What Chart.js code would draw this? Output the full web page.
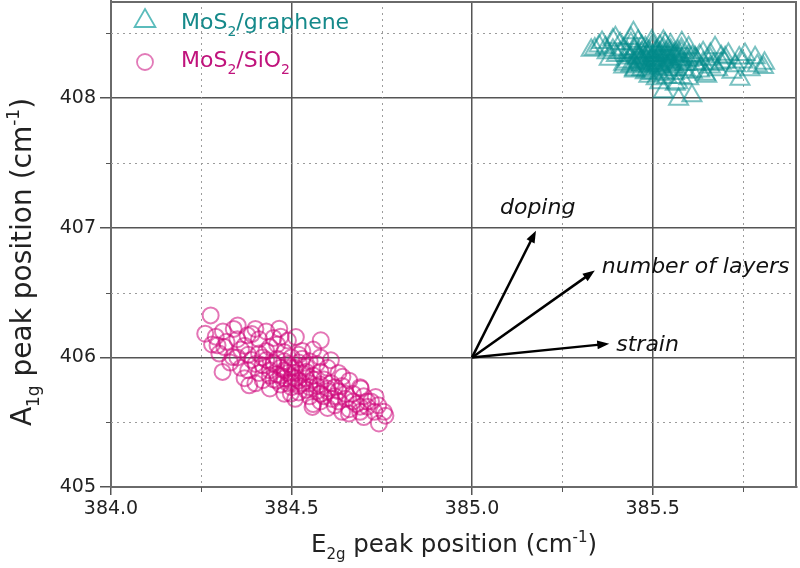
<!DOCTYPE html>
<html><head><meta charset="utf-8">
<script src="https://cdn.jsdelivr.net/npm/chart.js@4/dist/chart.umd.min.js"></script>
<style>html,body{margin:0;padding:0;background:#fff;}#wrap{width:800px;height:568px;}</style>
</head><body><div id="wrap"><canvas id="c" width="800" height="568"></canvas></div>
<script>
// ---- data ----
const grapheneE2g = [385.352,385.397,385.447,385.374,385.420,385.480,385.563,385.572,385.609,385.673,385.701,385.742,385.756,385.784,385.807,385.646,385.618,385.581,385.535,385.498,
385.33,385.43,385.45,385.52,385.53,385.66,385.69,385.72,385.60,385.63,385.38,385.44,385.58,385.75,385.81,385.79,
385.46,385.48,385.50,385.52,385.49,385.53,385.55,385.51,385.47,385.54,385.56,385.50,385.45,385.57,385.53,385.48,385.51,385.52,385.49,385.46,
385.58,385.55,385.47,385.50,385.54,385.56,385.44,385.52,385.49,385.57,385.59,385.53,385.48,385.51,385.55,385.46,385.50,385.52,385.54,385.47,
385.43,385.58,385.60,385.45,385.62,385.61,385.63,385.56,385.50,385.42,385.40,385.41,385.37,385.39,385.44,385.46,385.55,385.53,385.64,385.66,
385.68,385.70,385.65,385.60,385.57,385.54,385.51,385.49,385.71,385.73,385.77,385.74,385.36,385.34,385.42,385.45,
385.47,385.49,385.51,385.53,385.55,385.57,385.50,385.52,385.48,385.54,385.56,385.46,385.58,385.53,385.51,385.49,385.55,385.47,385.52,385.60,
385.59,385.45,385.43,385.62,385.64,385.61,385.58,385.50,385.48,385.56,385.53,385.66,385.41,385.39,385.44,385.67,385.69,385.52,385.47,385.57];
const grapheneA1g = [408.403,408.467,408.505,408.351,408.262,408.197,408.108,407.992,408.018,408.390,408.313,408.146,408.338,408.313,408.236,408.184,408.313,408.428,408.416,408.441,
408.37,408.35,408.22,408.12,408.05,408.24,408.27,408.20,408.39,408.33,408.30,408.42,408.16,408.28,408.27,408.25,
408.32,408.35,408.30,408.33,408.27,408.28,408.31,408.36,408.29,408.25,408.34,408.38,408.36,408.27,408.22,408.24,408.26,408.30,408.33,408.28,
408.30,408.37,408.40,408.25,408.35,408.24,408.31,408.40,408.21,408.33,408.26,408.38,408.31,408.23,408.28,408.34,408.33,408.27,408.32,408.26,
408.33,408.35,408.29,408.27,408.26,408.32,408.21,408.19,408.19,408.38,408.33,408.42,408.39,408.45,408.46,408.44,408.41,408.44,408.35,408.30,
408.22,408.28,408.17,408.15,408.12,408.16,408.15,408.17,408.34,408.25,408.22,408.31,408.43,408.38,408.24,408.21,
408.30,408.36,408.29,408.34,408.26,408.30,408.27,408.35,408.28,408.29,408.32,408.31,408.28,408.31,408.33,408.25,408.34,408.35,408.24,408.33,
408.22,408.38,408.28,408.30,408.27,408.20,408.38,408.41,408.39,408.22,408.20,408.34,408.35,408.37,408.25,408.26,408.32,408.18,408.22,408.36];
const sio2E2g = [384.276,384.261,384.295,384.314,384.309,384.351,384.378,384.466,384.512,384.581,384.609,384.733,384.756,384.742,384.659,384.692,384.641,384.558,384.498,384.420,384.383,384.337,
384.45,384.48,384.50,384.52,384.47,384.53,384.55,384.51,384.49,384.46,384.44,384.42,384.40,384.43,384.38,384.36,384.41,384.54,384.57,384.58,
384.60,384.62,384.56,384.59,384.61,384.63,384.65,384.64,384.67,384.68,384.70,384.71,384.66,384.69,384.72,384.74,384.62,384.58,384.55,384.52,
384.50,384.47,384.45,384.48,384.50,384.52,384.54,384.57,384.53,384.46,384.41,384.39,384.35,384.32,384.30,384.33,384.36,384.31,384.28,384.34,
384.43,384.49,384.56,384.60,384.63,384.66,384.69,384.73,384.70,384.76,384.64,384.60,384.56,384.51,384.48,384.44,384.40,384.37,384.42,384.46,
384.51,384.54,384.49,384.53,384.58,
384.47,384.49,384.51,384.53,384.55,384.57,384.59,384.61,384.45,384.43,384.48,384.50,384.52,384.46,384.44,384.54,384.56,384.58,384.60,384.62,
384.50,384.48,384.41,384.39,384.37,384.44,384.65,384.67,384.63,384.69,384.71,384.55,384.52,384.58,384.47,384.38,384.35,384.29,384.40,384.45];
const sio2A1g = [406.324,406.183,406.093,406.080,405.888,406.247,406.170,406.222,406.157,406.132,405.978,405.695,405.580,405.490,405.567,405.760,405.850,405.618,405.721,405.824,405.785,406.003,
405.95,405.90,405.85,405.82,405.86,405.88,405.80,405.92,405.80,405.99,405.90,406.00,405.95,406.05,406.02,406.06,405.88,405.75,405.78,405.72,
405.76,405.70,405.86,405.83,405.80,405.74,405.68,405.78,405.72,405.64,405.70,405.62,405.60,405.58,405.66,405.63,405.63,405.66,405.70,405.73,
405.77,405.79,405.83,406.04,406.00,405.96,405.93,405.95,406.05,406.10,406.14,406.18,406.14,406.12,406.03,405.96,405.92,406.20,406.10,406.22,
406.20,406.13,406.06,405.92,405.88,405.82,405.77,405.58,405.54,405.55,405.58,405.61,405.64,405.68,405.72,405.76,405.80,405.84,405.94,405.87,
405.88,405.84,405.95,405.99,405.89,
405.92,405.88,405.84,405.80,405.77,405.74,405.70,405.68,405.96,405.98,405.84,405.81,405.78,405.82,405.86,405.89,405.83,405.79,405.74,405.77,
405.92,405.97,406.03,405.98,406.09,406.08,405.72,405.66,405.66,405.62,405.66,405.97,406.02,406.00,406.16,405.90,406.00,406.16,406.22,406.15];

const xTicks = [384.0, 384.5, 385.0, 385.5];
const xMinor = [384.25, 384.75, 385.25, 385.75];
const yTicks = [405, 406, 407, 408];
const yMinor = [405.5, 406.5, 407.5, 408.5];
const xRange = [384.0, 385.9];
const yRange = [405, 408.75];

const legendLabels = [
  [{t:'MoS'},{t:'2',sub:1},{t:'/graphene'}],
  [{t:'MoS'},{t:'2',sub:1},{t:'/SiO'},{t:'2',sub:1}]
];
const xTitle = [{t:'E'},{t:'2g',sub:1},{t:' peak position (cm'},{t:'-1',sup:1},{t:')'}];
const yTitle = [{t:'A'},{t:'1g',sub:1},{t:' peak position (cm'},{t:'-1',sup:1},{t:')'}];

const arrowOrigin = [385.0, 406.0];
const arrowTipE2g = [385.177, 385.34, 385.38];
const arrowTipA1g = [406.978, 406.67, 406.106];
const arrowLabels = ['doping', 'number of layers', 'strain'];

// ---- drawing helpers ----
const FAM = '"DejaVu Sans", sans-serif';
function drawRich(ctx, parts, x, y, size, align) {
  let total = 0;
  parts.forEach(p => {
    ctx.font = ((p.sub || p.sup) ? Math.round(size * 0.62) : size) + 'px ' + FAM;
    p._w = ctx.measureText(p.t).width; total += p._w;
  });
  let cx = align === 'center' ? x - total / 2 : x;
  ctx.textAlign = 'left'; ctx.textBaseline = 'alphabetic';
  parts.forEach(p => {
    ctx.font = ((p.sub || p.sup) ? Math.round(size * 0.62) : size) + 'px ' + FAM;
    const dy = p.sub ? size * 0.3 : (p.sup ? -size * 0.42 : 0);
    ctx.fillText(p.t, cx, y + dy);
    cx += p._w;
  });
}
function seg(ctx, x1, y1, x2, y2) { ctx.beginPath(); ctx.moveTo(x1, y1); ctx.lineTo(x2, y2); ctx.stroke(); }
function tri(ctx, x, y, r) {
  ctx.beginPath();
  ctx.moveTo(x, y - r);
  ctx.lineTo(x + r * Math.sin(2 * Math.PI / 3), y - r * Math.cos(2 * Math.PI / 3));
  ctx.lineTo(x + r * Math.sin(4 * Math.PI / 3), y - r * Math.cos(4 * Math.PI / 3));
  ctx.closePath(); ctx.stroke();
}

const deco = {
  id: 'deco',
  beforeDatasetsDraw(chart) {
    const {ctx, chartArea: a, scales: {x, y}} = chart;
    ctx.save();
    ctx.strokeStyle = '#9c9c9c'; ctx.lineWidth = 1; ctx.setLineDash([2, 4]);
    xMinor.forEach(v => { const p = Math.round(x.getPixelForValue(v)) + 0.5; seg(ctx, p, a.top, p, a.bottom); });
    yMinor.forEach(v => { const p = Math.round(y.getPixelForValue(v)) + 0.5; seg(ctx, a.left, p, a.right, p); });
    ctx.setLineDash([]);
    ctx.strokeStyle = '#555';
    xMinor.forEach(v => { const p = Math.round(x.getPixelForValue(v)) + 0.5; seg(ctx, p, a.bottom, p, a.bottom + 5); });
    yMinor.forEach(v => { const p = Math.round(y.getPixelForValue(v)) + 0.5; seg(ctx, a.left - 5, p, a.left, p); });
    ctx.strokeStyle = '#6a6a6a'; ctx.lineWidth = 2;
    seg(ctx, a.left, a.top + 1, a.right, a.top + 1);
    seg(ctx, a.right - 1, a.top, a.right - 1, a.bottom);
    ctx.restore();
  },
  afterDatasetsDraw(chart) {
    const {ctx, chartArea: a, scales: {x, y}} = chart;
    ctx.save();
    // arrows
    const ox = x.getPixelForValue(arrowOrigin[0]), oy = y.getPixelForValue(arrowOrigin[1]);
    const offs = [[-36, -17], [7, 2], [7, 7]];
    arrowTipE2g.forEach((tx, i) => {
      const px = x.getPixelForValue(tx), py = y.getPixelForValue(arrowTipA1g[i]);
      const ang = Math.atan2(py - oy, px - ox), hl = 12, hw = 4.5;
      ctx.strokeStyle = '#000'; ctx.fillStyle = '#000'; ctx.lineWidth = 2.5;
      seg(ctx, ox, oy, px - Math.cos(ang) * hl * 0.8, py - Math.sin(ang) * hl * 0.8);
      ctx.beginPath();
      ctx.moveTo(px, py);
      ctx.lineTo(px - Math.cos(ang) * hl - Math.sin(ang) * hw, py - Math.sin(ang) * hl + Math.cos(ang) * hw);
      ctx.lineTo(px - Math.cos(ang) * hl + Math.sin(ang) * hw, py - Math.sin(ang) * hl - Math.cos(ang) * hw);
      ctx.closePath(); ctx.fill();
      ctx.font = 'italic 22px ' + FAM; ctx.textAlign = 'left'; ctx.textBaseline = 'alphabetic';
      ctx.fillStyle = '#111';
      ctx.fillText(arrowLabels[i], px + offs[i][0], py + offs[i][1]);
    });
    // legend
    const lx = a.left + 34;
    ctx.lineWidth = 1.8;
    ctx.strokeStyle = '#5bbcbc'; tri(ctx, lx, a.top + 20, 12);
    ctx.strokeStyle = '#e27ab8'; ctx.beginPath(); ctx.arc(lx, a.top + 61, 8, 0, Math.PI * 2); ctx.stroke();
    ctx.fillStyle = '#15898a'; drawRich(ctx, legendLabels[0], a.left + 70, a.top + 28, 22, 'left');
    ctx.fillStyle = '#c0137c'; drawRich(ctx, legendLabels[1], a.left + 70, a.top + 66, 22, 'left');
    // axis titles
    ctx.fillStyle = '#222';
    drawRich(ctx, xTitle, (a.left + a.right) / 2, 552, 24.5, 'center');
    ctx.translate(31, 262);
    ctx.rotate(-Math.PI / 2);
    drawRich(ctx, yTitle, 0, 0, 28, 'center');
    ctx.restore();
  }
};

function zeroPad(s) { s.paddingLeft = 0; s.paddingRight = 0; s.paddingTop = 0; s.paddingBottom = 0; }

new Chart(document.getElementById('c'), {
  type: 'scatter',
  data: {
    datasets: [
      { label: 'MoS2/graphene',
        data: grapheneE2g.map((v, i) => ({x: v, y: grapheneA1g[i]})),
        pointStyle: 'triangle', pointRadius: 11, pointBorderWidth: 2,
        pointBorderColor: 'rgba(0,139,139,0.52)', pointBackgroundColor: 'rgba(0,0,0,0)' },
      { label: 'MoS2/SiO2',
        data: sio2E2g.map((v, i) => ({x: v, y: sio2A1g[i]})),
        pointStyle: 'circle', pointRadius: 8, pointBorderWidth: 2,
        pointBorderColor: 'rgba(205,5,122,0.55)', pointBackgroundColor: 'rgba(0,0,0,0)' }
    ]
  },
  options: {
    responsive: false, animation: false, devicePixelRatio: 1,
    layout: { autoPadding: false, padding: { top: 1, right: 3, left: 0, bottom: 0 } },
    plugins: { legend: { display: false }, tooltip: { enabled: false } },
    scales: {
      x: {
        type: 'linear', position: 'bottom', min: xRange[0], max: xRange[1],
        afterBuildTicks: s => { s.ticks = xTicks.map(v => ({value: v})); },
        afterFit: s => { s.height = 81; zeroPad(s); },
        ticks: { font: {family: FAM, size: 19}, color: '#222', padding: 3, maxRotation: 0,
                 callback: v => Number(v).toFixed(1) },
        grid: { color: '#555', lineWidth: 1.5, tickLength: 8, tickColor: '#555' },
        border: { color: '#6a6a6a', width: 2 }
      },
      y: {
        type: 'linear', position: 'left', min: yRange[0], max: yRange[1],
        afterBuildTicks: s => { s.ticks = yTicks.map(v => ({value: v})); },
        afterFit: s => { s.width = 111; zeroPad(s); },
        ticks: { font: {family: FAM, size: 19}, color: '#222', padding: 4,
                 callback: v => String(v) },
        grid: { color: '#555', lineWidth: 1.5, tickLength: 11, tickColor: '#555' },
        border: { color: '#6a6a6a', width: 2 }
      }
    }
  },
  plugins: [deco]
});
</script>
</body></html>
